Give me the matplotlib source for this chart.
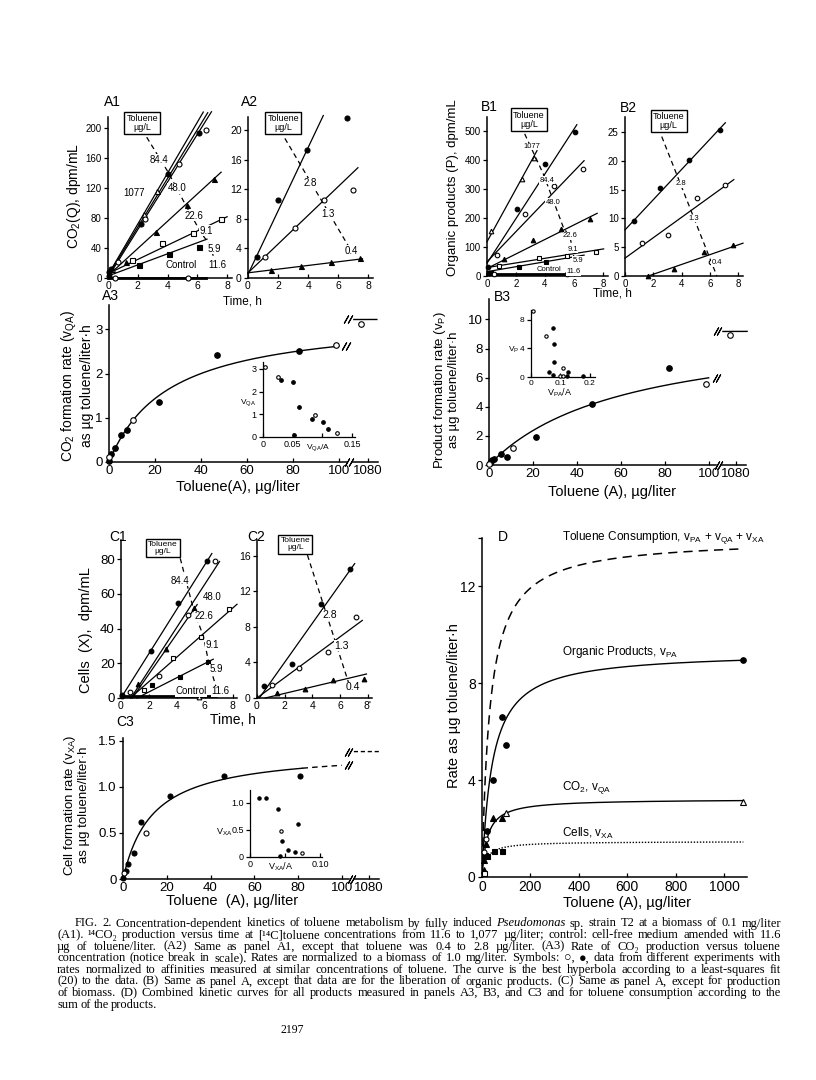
#!/usr/bin/env python3
"""Toluene metabolism kinetics (Fig. 2, panels A1-D) redrawn with matplotlib."""

import numpy as np
import matplotlib
matplotlib.use("Agg")
import matplotlib.pyplot as plt

W, H = 816, 1080
SANS = ["Liberation Sans", "DejaVu Sans"]
SERIF = ["Liberation Serif", "DejaVu Serif"]

plt.rcParams["font.family"] = SANS
plt.rcParams["mathtext.fontset"] = "custom"
plt.rcParams["mathtext.rm"] = "Liberation Sans"
plt.rcParams["mathtext.it"] = "Liberation Sans:italic"
plt.rcParams["mathtext.bf"] = "Liberation Sans:bold"

# ---------------- A1: CO2 vs time, 5.9-1077 ug/L ----------------
A1_T = {"1077": [0.3, 2.4, 3.3], "84.4": [2.2, 4.05, 6.1], "48.0": [0.7, 2.5, 4.75, 6.6],
        "22.6": [1.2, 3.2, 5.3, 7.15], "9.1": [1.6, 3.65, 5.7, 7.6], "5.9": [2.1, 4.1, 6.1],
        "control": [0.5, 5.4], "start": [0.05, 0.1, 0.2]}
A1_Q = {"1077": [12, 86, 116], "84.4": [72, 139, 194], "48.0": [22, 79, 152, 198],
        "22.6": [22, 62, 97, 132], "9.1": [24, 47, 60, 79], "5.9": [17, 32, 42],
        "control": [0, 0], "start": [3, 8, 12]}
# intercept, slope, t start, t end
A1_FIT = {"1077": (4, 34, 0, 6.4), "84.4": (3, 32.5, 0, 6.7), "48.0": (1, 31.8, 0, 6.95),
          "22.6": (3, 18.2, 0, 7.6), "9.1": (5.8, 9.5, 0, 8.0), "5.9": (2.7, 7.4, 0, 6.65),
          "control": (0, 0, 0, 6.6)}
A1_MARK = {"1077": "ot", "84.4": "fc", "48.0": "oc", "22.6": "ft", "9.1": "os",
           "5.9": "fs", "control": "oc", "start": "fc"}

# ---------------- A2: CO2 vs time, 0.4-2.8 ug/L ----------------
A2_T = {"2.8": [0.6, 2.0, 3.95, 6.6], "1.3": [1.1, 3.1, 5.05, 7.0], "0.4": [1.5, 3.55, 5.5, 7.45]}
A2_Q = {"2.8": [2.8, 10.6, 17.3, 21.6], "1.3": [2.8, 6.8, 10.5, 11.9], "0.4": [1.1, 1.65, 2.15, 2.65]}
A2_FIT = {"2.8": (0.5, 4.3, 0, 5.0), "1.3": (0.7, 1.95, 0, 7.3), "0.4": (0.7, 0.25, 0, 7.6)}
A2_MARK = {"2.8": "fc", "1.3": "oc", "0.4": "ft"}

# ---------------- A3: CO2 formation rate vs toluene ----------------
A3_A_FILLED = [0, 1, 2.4, 5.2, 8, 21.6, 47, 82.7]
A3_V_FILLED = [0.03, 0.17, 0.31, 0.61, 0.73, 1.36, 2.43, 2.5]
A3_A_OPEN = [0, 10.4, 98.8, 1077]
A3_V_OPEN = [0.11, 0.96, 2.64, 3.12]
A3_VMAX, A3_K = 3.3, 26.0
A3I_X_FILLED = [0.030, 0.051, 0.060, 0.053, 0.083, 0.101, 0.110]
A3I_Y_FILLED = [2.49, 2.43, 1.32, 0.09, 0.79, 0.65, 0.34]
A3I_X_OPEN = [0.004, 0.025, 0.088, 0.124]
A3I_Y_OPEN = [3.07, 2.66, 0.97, 0.18]

# ---------------- B1: organic products vs time ----------------
B1_T = {"1077": [0.3, 2.4, 3.25], "84.4": [2.1, 4.0, 6.05], "48.0": [0.7, 2.6, 4.6, 6.6],
        "22.6": [1.15, 3.2, 5.1, 7.1], "9.1": [0.85, 3.6, 5.5, 7.5], "5.9": [0.3, 2.2, 4.1, 6.05],
        "control": [0.5, 5.5], "start": [0.1, 0.15]}
B1_P = {"1077": [155, 333, 405], "84.4": [232, 385, 498], "48.0": [72, 214, 309, 369],
        "22.6": [60, 124, 163, 198], "9.1": [36, 61, 70, 84], "5.9": [9, 31, 49, 54],
        "control": [6, 6], "start": [32, 10]}
B1_FIT = {"1077": (118, 91, 0, 3.45), "84.4": (44, 77, 0, 6.2), "48.0": (49, 52, 0, 6.7),
          "22.6": (26, 25, 0, 7.6), "9.1": (29, 8, 0, 8.05), "5.9": (15, 8.5, 0, 6.7),
          "control": (6, 0, 0, 5.6)}
B1_MARK = {"1077": "ot", "84.4": "fc", "48.0": "oc", "22.6": "ft", "9.1": "os",
           "5.9": "fs", "control": "oc", "start": "fc"}

# ---------------- B2 ----------------
B2_T = {"2.8": [0.65, 2.5, 4.5, 6.7], "1.3": [1.2, 3.05, 5.1, 7.1, 6.1], "0.4": [1.6, 3.5, 5.6, 7.65]}
B2_P = {"2.8": [9.5, 15.3, 20.2, 25.4], "1.3": [5.7, 7.2, 13.5, 15.8, 2.5], "0.4": [0.05, 1.3, 4.2, 5.3]}
B2_FIT = {"2.8": (8.0, 2.62, 0, 7.1), "1.3": (3.1, 1.77, 0, 7.7), "0.4": (-1.4, 0.85, 1.65, 8.35)}
B2_MARK = {"2.8": "fc", "1.3": "oc", "0.4": "ft"}

# ---------------- B3: product formation rate ----------------
B3_A_FILLED = [0.3, 0.8, 1.5, 2.2, 5.4, 8.4, 21.6, 47, 81.8]
B3_V_FILLED = [0.15, 0.25, 0.35, 0.4, 0.73, 0.57, 1.94, 4.18, 6.67]
B3_A_OPEN = [0, 10.9, 99, 1077]
B3_V_OPEN = [0.1, 1.19, 5.55, 8.9]
B3_VMAX, B3_K = 9.7, 62.0
B3I_X_FILLED = [0.078, 0.078, 0.061, 0.075, 0.122, 0.126, 0.176, 0.075]
B3I_Y_FILLED = [4.6, 2.1, 0.7, 0.3, 0.2, 0.75, 0.15, 6.9]
B3I_X_OPEN = [0.051, 0.108, 0.100, 0.110, 0.007]
B3I_Y_OPEN = [5.7, 1.2, 0.2, 0.2, 9.2]

# ---------------- C1: cells vs time ----------------
C1_T = {"84.4": [2.15, 4.1, 6.15], "48.0": [0.65, 2.7, 4.8, 6.7], "22.6": [1.2, 3.25, 5.25],
        "9.1": [1.65, 3.75, 5.75, 7.75], "5.9": [2.2, 4.2, 6.2], "control": [5.6],
        "start": [0.05, 0.1]}
C1_X = {"84.4": [27, 55, 79], "48.0": [3.3, 12.8, 48, 79], "22.6": [8.2, 28.5, 52],
        "9.1": [4.5, 23, 35, 51], "5.9": [7.3, 12, 21], "control": [0.5], "start": [2, 1]}
C1_FIT = {"84.4": (0, 12.8, 0, 6.5), "48.0": (-8.8, 12.4, 0.71, 7.05), "22.6": (-9.4, 11.6, 0.81, 5.45),
          "9.1": (-4.7, 7.07, 0.67, 8.3), "5.9": (-4.7, 4.1, 1.14, 6.6), "control": (1, 0, 0.3, 6.8)}
C1_MARK = {"84.4": "fc", "48.0": "oc", "22.6": "ft", "9.1": "os", "5.9": "fs",
           "control": "ot", "start": "fc"}

# ---------------- C2 ----------------
C2_T = {"2.8": [0.5, 2.5, 4.6, 6.7], "1.3": [1.1, 3.05, 5.15, 7.15], "0.4": [1.45, 3.5, 5.5, 7.7]}
C2_X = {"2.8": [1.3, 3.8, 10.6, 14.5], "1.3": [1.45, 3.4, 5.2, 9.1], "0.4": [0.6, 1.07, 2.0, 2.1]}
C2_FIT = {"2.8": (-0.37, 2.2, 0.17, 7.05), "1.3": (0, 1.15, 0, 7.6), "0.4": (-0.22, 0.37, 0.6, 7.9)}
C2_MARK = {"2.8": "fc", "1.3": "oc", "0.4": "ft"}

# ---------------- C3: cell formation rate ----------------
C3_A_FILLED = [0, 1.2, 2.3, 5, 8.4, 21.6, 46, 81]
C3_V_FILLED = [0.01, 0.09, 0.16, 0.28, 0.62, 0.9, 1.12, 1.12]
C3_A_OPEN = [0.3, 10.3]
C3_V_OPEN = [0.07, 0.5]
C3_VMAX, C3_K = 1.4, 13.5
C3I_X_FILLED = [0.013, 0.023, 0.040, 0.046, 0.043, 0.069, 0.055, 0.064]
C3I_Y_FILLED = [1.10, 1.10, 0.89, 0.29, 0.01, 0.62, 0.13, 0.085]
C3I_X_OPEN = [0.044, 0.074]
C3I_Y_OPEN = [0.48, 0.07]

# ---------------- D: combined curves ----------------
D_ORG_VMAX, D_ORG_K = 9.3, 42.0
D_CO2_VMAX, D_CO2_K = 3.22, 22.0
D_CELL_VMAX, D_CELL_K = 1.47, 18.5
D_A_ORG = [19, 45, 83, 100, 1080]
D_V_ORG = [1.9, 4.0, 6.6, 5.45, 8.95]
D_A_CO2_F = [8, 8, 16, 47, 83]
D_V_CO2_F = [0.3, 0.7, 1.35, 2.45, 2.45]
D_A_CO2_O = [100, 1077]
D_V_CO2_O = [2.65, 3.1]
D_A_CELL_F = [12, 22, 48, 83]
D_V_CELL_F = [0.9, 0.85, 1.07, 1.07]
D_A_CELL_O = [8]
D_V_CELL_O = [0.15]
D_A_MISC_O = [10, 18]
D_V_MISC_O = [1.05, 1.55]

CAPTION = [
    "FIG. 2. Concentration-dependent kinetics of toluene metabolism by fully induced _Pseudomonas_ sp. strain T2 at a biomass of 0.1 mg/liter",
    "(A1). ¹⁴CO₂ production versus time at [¹⁴C]toluene concentrations from 11.6 to 1,077 µg/liter; control: cell-free medium amended with 11.6",
    "µg of toluene/liter. (A2) Same as panel A1, except that toluene was 0.4 to 2.8 µg/liter. (A3) Rate of CO₂ production versus toluene",
    "concentration (notice break in scale). Rates are normalized to a biomass of 1.0 mg/liter. Symbols: ○, ●, data from different experiments with",
    "rates normalized to affinities measured at similar concentrations of toluene. The curve is the best hyperbola according to a least-squares fit",
    "(20) to the data. (B) Same as panel A, except that data are for the liberation of organic products. (C) Same as panel A, except for production",
    "of biomass. (D) Combined kinetic curves for all products measured in panels A3, B3, and C3 and for toluene consumption according to the",
    "sum of the products.",
]

MARK = {"fc": ("o", "black"), "oc": ("o", "white"), "ft": ("^", "black"),
        "ot": ("^", "white"), "fs": ("s", "black"), "os": ("s", "white")}


def hyperbola(a, vmax, k):
    a = np.asarray(a, dtype=float)
    return vmax * a / (k + a)


def xmap(a):
    # values beyond the scale break are shifted next to the 0-100 range
    a = np.asarray(a, dtype=float)
    return np.where(a > 500, a - 967.5, a)


def add_ax(fig, left, right, bottom, top):
    return fig.add_axes([left / W, 1 - bottom / H, (right - left) / W, (bottom - top) / H])


def style_ax(ax, size, lw=1.1):
    ax.patch.set_alpha(0)
    for side in ("top", "right"):
        ax.spines[side].set_visible(False)
    for side in ("left", "bottom"):
        ax.spines[side].set_linewidth(lw)
    ax.tick_params(axis="x", direction="in", length=3, width=0.9, labelsize=size, pad=2)
    ax.tick_params(axis="y", direction="out", length=3, width=0.9, labelsize=size, pad=1.5)


def fig_text(fig, x, y, s, **kw):
    return fig.text(x / W, 1 - y / H, s, **kw)


def draw_points(ax, x, y, kind, ms):
    marker, face = MARK[kind]
    ax.plot(x, y, ls="none", marker=marker, mfc=face, mec="black", ms=ms, mew=0.8,
            clip_on=False, zorder=3)


def slashes(ax, x, y, transform=None):
    # a pair of short "/" strokes marking a break
    kw = {} if transform is None else {"transform": transform}
    ax.plot([x - 0.8, x + 0.8], [y, y], ls="none", marker=(2, 2, -30), ms=6.5, mew=0.8,
            color="black", clip_on=False, zorder=4, **kw)


def timecourse(ax, times, values, fits, marks, ms=3.6):
    for key in times:
        draw_points(ax, times[key], values[key], marks[key], ms)
    for key, (b, k, t0, t1) in fits.items():
        tt = np.array([t0, t1])
        ax.plot(tt, b + k * tt, color="black", lw=2.0 if key == "control" else 0.9,
                clip_on=False, zorder=2)


def trace(ax, xs, ys):
    ax.plot(xs, ys, color="black", lw=0.9, ls=(0, (4, 3)), clip_on=False, zorder=1)


def labels(ax, items, size):
    for text, x, y in items:
        ax.text(x, y, text, fontsize=size, ha="center", va="center", clip_on=False, zorder=4,
                bbox=dict(fc="white", ec="none", pad=0.3))


def toluene_box(ax, x, y, size):
    ax.text(x, y, "Toluene\nµg/L", fontsize=size, ha="center", va="center", linespacing=1.0,
            clip_on=False, zorder=5,
            bbox=dict(boxstyle="square,pad=0.25", fc="white", ec="black", lw=1.0))


def broken_axis(ax, xmax, size):
    ax.set_xlim(0, xmax)
    ax.spines["bottom"].set_bounds(0, 103.3)
    ax.plot([105.7, xmax], [0, 0], transform=ax.get_xaxis_transform(), color="black",
            lw=1.1, clip_on=False)
    slashes(ax, 104.5, 0, transform=ax.get_xaxis_transform())
    ax.set_xticks([0, 20, 40, 60, 80, 100, float(xmap(1080))])
    ax.set_xticklabels(["0", "20", "40", "60", "80", "100", "1080"], fontsize=size)


def draw_caption(fig):
    renderer = fig.canvas.get_renderer()
    x_right = 781
    for i, line in enumerate(CAPTION):
        y_base = 1 - (923 + 3.5 + i * 11.6) / H
        x_start = 75 if i == 0 else 57
        size = 9.0
        pieces = []
        for word in line.split(" "):
            style = "normal"
            if word.startswith("_") and word.endswith("_"):
                word, style = word[1:-1], "italic"
            t = fig.text(0, y_base, word, fontsize=size, family=SERIF, style=style, va="baseline")
            pieces.append(t)
        widths = [t.get_window_extent(renderer).width for t in pieces]
        room = x_right - x_start
        natural = sum(widths) + 2.4 * (len(pieces) - 1)
        if natural > room:
            scale = room / natural
            for t in pieces:
                t.set_fontsize(size * scale)
            widths = [t.get_window_extent(renderer).width for t in pieces]
        if i == len(CAPTION) - 1:
            gap = 2.6
        else:
            gap = (room - sum(widths)) / (len(pieces) - 1)
        x = x_start
        for t, w in zip(pieces, widths):
            t.set_x(x / W)
            x += w + gap


def main():
    fig = plt.figure(figsize=(W / 100, H / 100), dpi=100, facecolor="white")

    # ---- A1 ----
    ax = add_ax(fig, 108, 232, 278, 117)
    style_ax(ax, 7.5)
    ax.tick_params(axis="y", labelsize=7)
    ax.set_xlim(0, 8.33)
    ax.set_ylim(0, 215)
    ax.set_xticks([0, 2, 4, 6, 8])
    ax.set_yticks([0, 40, 80, 120, 160, 200])
    timecourse(ax, A1_T, A1_Q, A1_FIT, A1_MARK)
    trace(ax, [2.6, 4.05, 5.2, 6.2, 6.8, 7.1], [188, 141, 98, 62, 45, 28])
    labels(ax, [("84.4", 3.45, 158), ("48.0", 4.65, 120), ("1077", 1.75, 114),
                ("22.6", 5.75, 83), ("9.1", 6.6, 63), ("5.9", 7.15, 39),
                ("11.6", 7.35, 18), ("Control", 4.9, 18)], 7)
    toluene_box(ax, 2.3, 207, 6.5)
    fig_text(fig, 112, 102, "A1", fontsize=10, ha="center", va="center")
    fig_text(fig, 74, 196, "CO$_2$(Q), dpm/mL", fontsize=10, rotation=90, ha="center", va="center")

    # ---- A2 ----
    ax = add_ax(fig, 248, 373, 278, 117)
    style_ax(ax, 7.5)
    ax.set_xlim(0, 8.3)
    ax.set_ylim(0, 21.8)
    ax.set_xticks([0, 2, 4, 6, 8])
    ax.set_yticks([0, 4, 8, 12, 16, 20])
    timecourse(ax, A2_T, A2_Q, A2_FIT, A2_MARK)
    trace(ax, [2.45, 7.05], [18.9, 3.0])
    labels(ax, [("2.8", 4.15, 12.8), ("1.3", 5.3, 8.7), ("0.4", 6.85, 3.7)], 7)
    toluene_box(ax, 2.35, 21.0, 6.5)
    fig_text(fig, 250, 102, "A2", fontsize=10, ha="center", va="center")
    fig_text(fig, 242, 301, "Time, h", fontsize=8.5, ha="center", va="center")

    # ---- A3 ----
    ax = add_ax(fig, 109, 378, 462, 305)
    style_ax(ax, 9.5)
    broken_axis(ax, 117, 9.5)
    ax.set_ylim(0, 3.55)
    ax.set_yticks([0, 1, 2, 3])
    aa = np.linspace(0, 100, 200)
    ax.plot(aa, hyperbola(aa, A3_VMAX, A3_K), color="black", lw=1.0)
    ah = np.linspace(1074, 1084, 10)
    ax.plot(xmap(ah), hyperbola(ah, A3_VMAX, A3_K), color="black", lw=1.0, clip_on=False)
    slashes(ax, 103, float(hyperbola(100, A3_VMAX, A3_K)))
    slashes(ax, 104, float(hyperbola(1080, A3_VMAX, A3_K)))
    draw_points(ax, xmap(A3_A_FILLED), A3_V_FILLED, "fc", 4)
    draw_points(ax, xmap(A3_A_OPEN), A3_V_OPEN, "oc", 4)
    fig_text(fig, 110, 296, "A3", fontsize=10, ha="center", va="center")
    fig_text(fig, 77, 386, "CO$_2$ formation rate (v$_{\\mathrm{QA}}$)\nas µg toluene/liter·h",
             fontsize=10, rotation=90, ha="center", va="center", linespacing=1.1)
    fig_text(fig, 238, 487, "Toluene(A), µg/liter", fontsize=10.5, ha="center", va="center")

    ax = add_ax(fig, 263, 355, 437, 362)
    style_ax(ax, 6.5, lw=0.9)
    ax.set_xlim(0, 0.155)
    ax.set_ylim(0, 3.3)
    ax.set_xticks([0, 0.05, 0.1, 0.15])
    ax.set_xticklabels(["0", "0.05", "", "0.15"])
    ax.set_yticks([0, 1, 2, 3])
    draw_points(ax, A3I_X_FILLED, A3I_Y_FILLED, "fc", 2.6)
    draw_points(ax, A3I_X_OPEN, A3I_Y_OPEN, "oc", 2.6)
    fig_text(fig, 248, 403, "V$_{\\mathrm{QA}}$", fontsize=6, ha="center", va="center")
    fig_text(fig, 318, 448, "V$_{\\mathrm{QA}}$/A", fontsize=6, ha="center", va="center")

    # ---- B1 ----
    ax = add_ax(fig, 487, 608, 276, 117)
    style_ax(ax, 7)
    ax.set_xlim(0, 8.35)
    ax.set_ylim(0, 548)
    ax.set_xticks([0, 2, 4, 6, 8])
    ax.set_yticks([0, 100, 200, 300, 400, 500])
    timecourse(ax, B1_T, B1_P, B1_FIT, B1_MARK, ms=3.3)
    trace(ax, [2.6, 3.9, 5.25, 5.75, 6.05], [490, 350, 170, 130, 50])
    labels(ax, [("1077", 3.1, 446), ("84.4", 4.15, 330), ("48.0", 4.55, 254),
                ("22.6", 5.75, 138), ("9.1", 5.9, 92), ("5.9", 6.25, 55),
                ("11.6", 6.0, 15), ("Control", 4.25, 23)], 5.5)
    toluene_box(ax, 2.9, 539, 6.5)
    fig_text(fig, 489, 107, "B1", fontsize=10, ha="center", va="center")
    fig_text(fig, 453, 188, "Organic products (P), dpm/mL", fontsize=9.5, rotation=90,
             ha="center", va="center")

    # ---- B2 ----
    ax = add_ax(fig, 625, 743, 276, 117)
    style_ax(ax, 7)
    ax.set_xlim(0, 8.35)
    ax.set_ylim(0, 27.6)
    ax.set_xticks([0, 2, 4, 6, 8])
    ax.set_yticks([0, 5, 10, 15, 20, 25])
    timecourse(ax, B2_T, B2_P, B2_FIT, B2_MARK, ms=3.3)
    trace(ax, [2.6, 6.5], [24.2, 0])
    labels(ax, [("2.8", 3.95, 16), ("1.3", 4.85, 10), ("0.4", 6.5, 2.3)], 5.5)
    toluene_box(ax, 3.1, 26.9, 6.5)
    fig_text(fig, 628, 108, "B2", fontsize=10, ha="center", va="center")
    fig_text(fig, 612, 294, "Time, h", fontsize=8.5, ha="center", va="center")

    # ---- B3 ----
    ax = add_ax(fig, 489, 746, 465, 299)
    style_ax(ax, 9.5)
    broken_axis(ax, 117, 9.5)
    ax.set_ylim(0, 11.4)
    ax.set_yticks([0, 2, 4, 6, 8, 10])
    aa = np.linspace(0, 100, 200)
    ax.plot(aa, hyperbola(aa, B3_VMAX, B3_K), color="black", lw=1.0)
    ah = np.linspace(1074, 1085, 10)
    ax.plot(xmap(ah), hyperbola(ah, B3_VMAX, B3_K), color="black", lw=1.0, clip_on=False)
    slashes(ax, 103.5, float(hyperbola(100, B3_VMAX, B3_K)))
    slashes(ax, 104, float(hyperbola(1080, B3_VMAX, B3_K)))
    draw_points(ax, xmap(B3_A_FILLED), B3_V_FILLED, "fc", 4)
    draw_points(ax, xmap(B3_A_OPEN), B3_V_OPEN, "oc", 4)
    fig_text(fig, 502, 297, "B3", fontsize=10, ha="center", va="center")
    fig_text(fig, 446, 390, "Product formation rate (v$_{\\mathrm{P}}$)\nas µg toluene/liter·h",
             fontsize=9.5, rotation=90, ha="center", va="center", linespacing=1.1)
    fig_text(fig, 612, 492, "Toluene (A), µg/liter", fontsize=10.5, ha="center", va="center")

    ax = add_ax(fig, 531, 595, 377, 310)
    style_ax(ax, 6, lw=0.9)
    ax.set_xlim(0, 0.217)
    ax.set_ylim(0, 9.4)
    ax.set_xticks([0, 0.1, 0.2])
    ax.set_xticklabels(["0", "0.1", "0.2"])
    ax.set_yticks([0, 4, 8])
    draw_points(ax, B3I_X_FILLED, B3I_Y_FILLED, "fc", 2.4)
    draw_points(ax, B3I_X_OPEN, B3I_Y_OPEN, "oc", 2.4)
    fig_text(fig, 514, 350, "V$_{\\mathrm{P}}$", fontsize=6, ha="center", va="center")
    fig_text(fig, 560, 393, "V$_{\\mathrm{PA}}$/A", fontsize=6.5, ha="center", va="center")

    # ---- C1 ----
    ax = add_ax(fig, 121, 237, 698, 540)
    style_ax(ax, 9.5)
    ax.set_xlim(0, 8.3)
    ax.set_ylim(0, 91)
    ax.set_xticks([0, 2, 4, 6, 8])
    ax.tick_params(axis="x", labelsize=7.5)
    ax.set_yticks([0, 20, 40, 60, 80])
    timecourse(ax, C1_T, C1_X, C1_FIT, C1_MARK, ms=3.4)
    trace(ax, [4.24, 5.2, 5.9, 6.26, 6.86], [80.4, 50.7, 35.4, 21, 4.8])
    labels(ax, [("84.4", 4.2, 67.5), ("48.0", 6.5, 58), ("22.6", 5.95, 47),
                ("9.1", 6.55, 30.5), ("5.9", 6.8, 16.7), ("11.6", 7.1, 3.8),
                ("Control", 5.0, 3.8)], 7)
    toluene_box(ax, 3.0, 86.5, 6)
    fig_text(fig, 118, 537, "C1", fontsize=10, ha="center", va="center")
    fig_text(fig, 86, 630, "Cells  (X),  dpm/mL", fontsize=10.5, rotation=90, ha="center", va="center")

    # ---- C2 ----
    ax = add_ax(fig, 257, 372, 698, 540)
    style_ax(ax, 7.5)
    ax.set_xlim(0, 8.3)
    ax.set_ylim(0, 17.8)
    ax.set_xticks([0, 2, 4, 6, 8])
    ax.set_xticklabels(["0", "2", "4", "6", "8'"])
    ax.set_yticks([0, 4, 8, 12, 16])
    timecourse(ax, C2_T, C2_X, C2_FIT, C2_MARK, ms=3.4)
    trace(ax, [3.64, 6.8], [16.1, 0.8])
    labels(ax, [("2.8", 5.25, 9.3), ("1.3", 6.1, 5.9), ("0.4", 6.95, 1.2)], 7.5)
    toluene_box(ax, 2.77, 17.3, 6)
    fig_text(fig, 256, 537, "C2", fontsize=10, ha="center", va="center")
    fig_text(fig, 233, 720, "Time, h", fontsize=10, ha="center", va="center")

    # ---- C3 ----
    ax = add_ax(fig, 123, 379, 879, 738)
    style_ax(ax, 9.5)
    broken_axis(ax, 117, 9.5)
    ax.set_ylim(0, 1.53)
    ax.set_yticks([0, 0.5, 1.0, 1.5])
    ax.set_yticklabels(["0", "0.5", "1.0", "1.5"])
    aa = np.linspace(0, 82, 200)
    ax.plot(aa, hyperbola(aa, C3_VMAX, C3_K), color="black", lw=1.0)
    aa = np.linspace(82, 100, 20)
    ax.plot(aa, hyperbola(aa, C3_VMAX, C3_K), color="black", lw=1.0, ls=(0, (4, 3)))
    ah = np.linspace(1073, 1085, 10)
    ax.plot(xmap(ah), hyperbola(ah, C3_VMAX, C3_K), color="black", lw=1.0, ls=(0, (3, 2)),
            clip_on=False)
    slashes(ax, 103, float(hyperbola(100, C3_VMAX, C3_K)))
    slashes(ax, 103, float(hyperbola(1080, C3_VMAX, C3_K)))
    draw_points(ax, xmap(C3_A_FILLED), C3_V_FILLED, "fc", 3.6)
    draw_points(ax, xmap(C3_A_OPEN), C3_V_OPEN, "oc", 3.6)
    fig_text(fig, 125, 722, "C3", fontsize=10, ha="center", va="center")
    fig_text(fig, 76, 805, "Cell formation rate (v$_{\\mathrm{XA}}$)\nas µg toluene/liter·h",
             fontsize=9.5, rotation=90, ha="center", va="center", linespacing=1.1)
    fig_text(fig, 232, 901, "Toluene  (A), µg/liter", fontsize=10.5, ha="center", va="center")

    ax = add_ax(fig, 250, 322, 857, 790)
    style_ax(ax, 6.5, lw=0.9)
    ax.set_xlim(0, 0.103)
    ax.set_ylim(0, 1.24)
    ax.set_xticks([0, 0.05, 0.10])
    ax.set_xticklabels(["0", "", "0.10"])
    ax.set_yticks([0, 0.5, 1.0])
    ax.set_yticklabels(["0", "0.5", "1.0"])
    draw_points(ax, C3I_X_FILLED, C3I_Y_FILLED, "fc", 2.4)
    draw_points(ax, C3I_X_OPEN, C3I_Y_OPEN, "oc", 2.4)
    fig_text(fig, 224, 832, "V$_{\\mathrm{XA}}$", fontsize=6.5, ha="center", va="center")
    fig_text(fig, 281, 867, "V$_{\\mathrm{XA}}$/A", fontsize=6.5, ha="center", va="center")

    # ---- D ----
    ax = add_ax(fig, 482, 747, 877, 538)
    style_ax(ax, 10)
    ax.set_xlim(0, 1095)
    ax.set_ylim(0, 14)
    ax.set_xticks([0, 200, 400, 600, 800, 1000])
    ax.set_yticks([0, 4, 8, 12, 14])
    ax.set_yticklabels(["0", "4", "8", "12", ""])
    aa = np.linspace(0, 1080, 2000)
    v_org = hyperbola(aa, D_ORG_VMAX, D_ORG_K)
    v_co2 = hyperbola(aa, D_CO2_VMAX, D_CO2_K)
    v_cell = hyperbola(aa, D_CELL_VMAX, D_CELL_K)
    ax.plot(aa, v_org + v_co2 + v_cell, color="black", lw=1.1, ls=(0, (6, 4)))
    ax.plot(aa, v_org, color="black", lw=1.0)
    ax.plot(aa, v_co2, color="black", lw=1.0)
    keep = aa >= 20
    ax.plot(aa[keep], v_cell[keep], color="black", lw=1.0, ls=(0, (1, 1.2)))
    draw_points(ax, D_A_ORG, D_V_ORG, "fc", 4)
    draw_points(ax, D_A_CO2_F, D_V_CO2_F, "ft", 4)
    draw_points(ax, D_A_CO2_O, D_V_CO2_O, "ot", 5)
    draw_points(ax, D_A_CELL_F, D_V_CELL_F, "fs", 3.6)
    draw_points(ax, D_A_CELL_O, D_V_CELL_O, "os", 3.6)
    draw_points(ax, D_A_MISC_O, D_V_MISC_O, "oc", 3.6)
    fig_text(fig, 503, 537, "D", fontsize=10, ha="center", va="center")
    fig_text(fig, 562, 537, "Toluene Consumption, v$_{\\mathrm{PA}}$ + v$_{\\mathrm{QA}}$ + v$_{\\mathrm{XA}}$",
             fontsize=8.5, ha="left", va="center")
    fig_text(fig, 562, 652, "Organic Products, v$_{\\mathrm{PA}}$", fontsize=8.5, ha="left", va="center")
    fig_text(fig, 562, 788, "CO$_2$, v$_{\\mathrm{QA}}$", fontsize=8.5, ha="left", va="center")
    fig_text(fig, 562, 833, "Cells, v$_{\\mathrm{XA}}$", fontsize=8.5, ha="left", va="center")
    fig_text(fig, 454, 706, "Rate as µg toluene/liter·h", fontsize=10.5, rotation=90,
             ha="center", va="center")
    fig_text(fig, 627, 903, "Toluene (A), µg/liter", fontsize=10.5, ha="center", va="center")

    # ---- caption ----
    draw_caption(fig)
    fig_text(fig, 292, 1030, "2197", fontsize=8.5, family=SERIF, ha="center", va="center")

    fig.savefig("out.png", dpi=100, facecolor="white")


if __name__ == "__main__":
    main()
